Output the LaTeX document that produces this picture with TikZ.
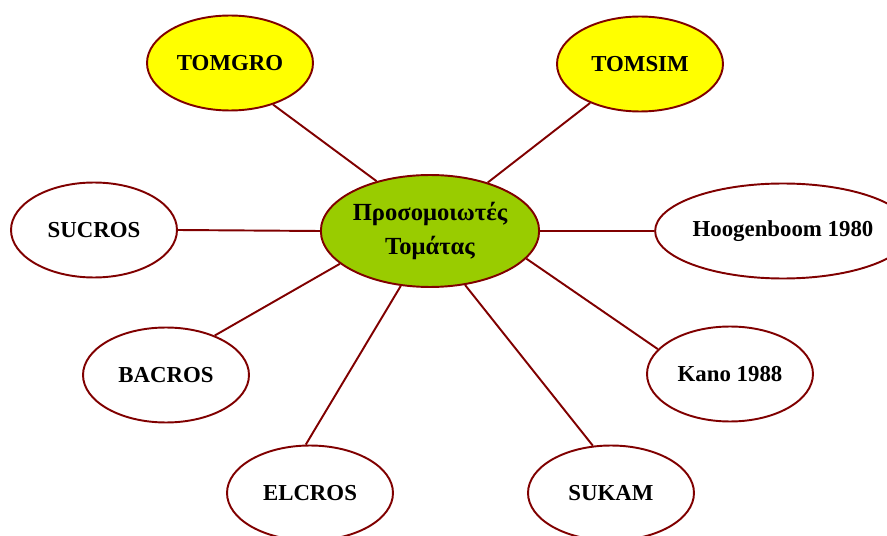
\documentclass[tikz,border=0pt]{standalone}
\usepackage{fontspec}
\setmainfont{Liberation Serif}
\usetikzlibrary{shapes.geometric}

\begin{document}
\begin{tikzpicture}[x=0.02cm, y=0.02cm]
        \definecolor{linkcolor}{RGB}{128,0,0}
        \definecolor{simgreen}{RGB}{153,204,0}
        \definecolor{modelyellow}{RGB}{255,255,0}
        \tikzset{
            model/.style={ellipse, draw=linkcolor, line width=1.1pt, fill=white,
                minimum width=3.32cm, minimum height=1.9cm, inner sep=0pt,
                font=\fontsize{13}{15}\selectfont\bfseries},
            link/.style={draw=linkcolor, line width=1.1pt}
        }
        \useasboundingbox (0,0) rectangle (887,535);

        % --- Centre ---
        \node[model, fill=simgreen, minimum width=4.3cm, minimum height=2.24cm, align=center,
              font=\fontsize{14}{19}\selectfont\bfseries] (sim) at (430,304) {Προσομοιωτές\\Τομάτας};

        % --- Models ---
        \node[model, fill=modelyellow] (tomgro) at (230,472) {TOMGRO};
        \node[model, fill=modelyellow] (tomsim) at (640,471) {TOMSIM};
        \node[model] (sucros) at (94,305) {SUCROS};
        \node[model, minimum width=4.16cm] (hoog) at (783,304) {Hoogenboom 1980};
        \node[model] (kano) at (730,161) {Kano 1988};
        \node[model] (bacros) at (166,160) {BACROS};
        \node[model] (elcros) at (310,42) {ELCROS};
        \node[model] (sukam) at (611,42) {SUKAM};

        % Links
        \foreach \a/\n/\b in {137/tomgro/316, 40/tomsim/218, 180/sucros/0, 0/hoog/180,
                              344/kano/161, 200/bacros/39, 242/elcros/95, 303/sukam/111} {
            \draw[link] (sim.\a) -- (\n.\b);
        }
\end{tikzpicture}
\end{document}
